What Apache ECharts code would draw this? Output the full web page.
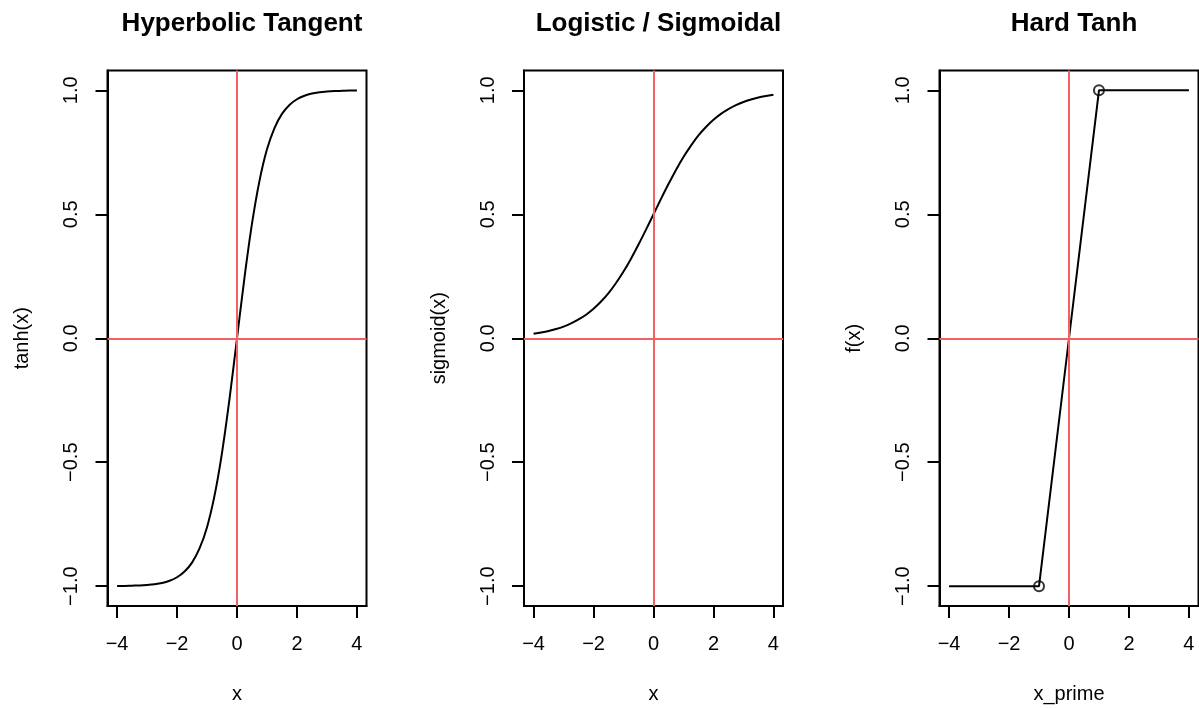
<!DOCTYPE html>
<html>
<head>
<meta charset="utf-8">
<script src="https://cdn.jsdelivr.net/npm/echarts@6/dist/echarts.min.js"></script>
<style>
html,body{margin:0;padding:0;background:#fff;}
#chart{width:1199px;height:709px;}
</style>
</head>
<body>
<div id="chart"></div>
<script>
// ---- data ----
var titles = ['Hyperbolic Tangent', 'Logistic / Sigmoidal', 'Hard Tanh'];
var xNames = ['x', 'x', 'x_prime'];
var yNames = ['tanh(x)', 'sigmoid(x)', 'f(x)'];
var xTicks = [-4, -2, 0, 2, 4];
var yTicks = [-1, -0.5, 0, 0.5, 1];

var xGrid = [-4, -3.75, -3.5, -3.25, -3, -2.75, -2.5, -2.25, -2, -1.75, -1.5, -1.25, -1, -0.75, -0.5, -0.25,
             0, 0.25, 0.5, 0.75, 1, 1.25, 1.5, 1.75, 2, 2.25, 2.5, 2.75, 3, 3.25, 3.5, 3.75, 4];
var tanhValues = [-0.999, -0.999, -0.998, -0.997, -0.995, -0.992, -0.987, -0.978, -0.964, -0.941, -0.905, -0.848,
                  -0.762, -0.635, -0.462, -0.245, 0, 0.245, 0.462, 0.635, 0.762, 0.848, 0.905, 0.941, 0.964,
                  0.978, 0.987, 0.992, 0.995, 0.997, 0.998, 0.999, 0.999];
var sigmoidValues = [0.018, 0.023, 0.029, 0.037, 0.047, 0.060, 0.076, 0.095, 0.119, 0.148, 0.182, 0.223,
                     0.269, 0.321, 0.378, 0.438, 0.5, 0.562, 0.622, 0.679, 0.731, 0.777, 0.818, 0.852, 0.881,
                     0.905, 0.924, 0.940, 0.953, 0.963, 0.971, 0.977, 0.982];
var hardX = [-4, -3, -2, -1, 0, 1, 2, 3, 4];
var hardValues = [-1, -1, -1, -1, 0, 1, 1, 1, 1];
var hardPointsX = [-1, 1];
var hardPointsY = [-1, 1];

// ---- layout ----
var panelLeft = [107.5, 524, 939.5];
var panelW = 259;
var panelTop = 70.5;
var panelH = 535.5;
var lw = 2;
var red = '#F06262';
var font = 'Liberation Sans, Arial, Helvetica, sans-serif';

function pairs(xs, ys) {
  var out = [];
  for (var i = 0; i < xs.length; i++) out.push([xs[i], ys[i]]);
  return out;
}
function fmtY(v) {
  var s = Math.abs(v).toFixed(1);
  return (v < 0 ? '\u2212' : '') + s;
}
function fmtX(v) {
  return (v < 0 ? '\u2212' : '') + Math.abs(v);
}

var grids = [], xAxes = [], yAxes = [], series = [], titleOpts = [];
var curves = [pairs(xGrid, tanhValues), pairs(xGrid, sigmoidValues), pairs(hardX, hardValues)];
var smoothing = [0.3, 0.3, false];

for (var i = 0; i < 3; i++) {
  grids.push({
    left: panelLeft[i], top: panelTop, width: panelW, height: panelH,
    containLabel: false, outerBoundsMode: 'none',
    show: true, borderColor: '#000', borderWidth: lw, backgroundColor: 'transparent'
  });
  titleOpts.push({
    text: titles[i], left: panelLeft[i] + panelW / 2, top: 6, textAlign: 'center',
    textStyle: {fontFamily: font, fontSize: 26, fontWeight: 'bold', color: '#000'}
  });
  xAxes.push({
    type: 'value', gridIndex: i, min: -4.32, max: 4.32, position: 'bottom',
    name: xNames[i], nameLocation: 'middle', nameGap: 78,
    nameTextStyle: {fontFamily: font, fontSize: 20, color: '#000'},
    axisLine: {show: true, onZero: false, lineStyle: {color: '#000', width: lw}},
    axisTick: {show: true, inside: false, length: 12, customValues: xTicks, lineStyle: {color: '#000', width: lw}},
    axisLabel: {show: true, customValues: xTicks, margin: 28, formatter: fmtX,
                fontFamily: font, fontSize: 20, color: '#000'},
    splitLine: {show: false}
  });
  yAxes.push({
    type: 'value', gridIndex: i, min: -1.08, max: 1.08, position: 'left',
    name: yNames[i], nameLocation: 'middle', nameGap: 75, nameRotate: 90,
    nameTextStyle: {fontFamily: font, fontSize: 20, color: '#000'},
    axisLine: {show: true, onZero: false, lineStyle: {color: '#000', width: lw}},
    axisTick: {show: true, inside: false, length: 12, customValues: yTicks, lineStyle: {color: '#000', width: lw}},
    axisLabel: {show: true, customValues: yTicks, margin: 26, rotate: 90, formatter: fmtY,
                fontFamily: font, fontSize: 20, color: '#000'},
    splitLine: {show: false}
  });
  series.push({
    type: 'line', xAxisIndex: i, yAxisIndex: i, data: curves[i],
    showSymbol: false, symbol: 'none', silent: true, animation: false,
    smooth: smoothing[i],
    lineStyle: {color: '#000', width: lw},
    markLine: {
      silent: true, symbol: 'none', animation: false, label: {show: false},
      lineStyle: {color: red, width: lw, type: 'solid'},
      data: [{xAxis: 0}, {yAxis: 0}]
    }
  });
}
series.push({
  type: 'scatter', xAxisIndex: 2, yAxisIndex: 2, data: pairs(hardPointsX, hardPointsY),
  symbol: 'circle', symbolSize: 10, silent: true, animation: false,
  itemStyle: {color: 'transparent', borderColor: '#000', borderWidth: lw}, z: 6
});

var chart = echarts.init(document.getElementById('chart'), null, {renderer: 'canvas'});
chart.setOption({
  backgroundColor: '#fff',
  animation: false,
  title: titleOpts,
  grid: grids,
  xAxis: xAxes,
  yAxis: yAxes,
  series: series
});
</script>
</body>
</html>
